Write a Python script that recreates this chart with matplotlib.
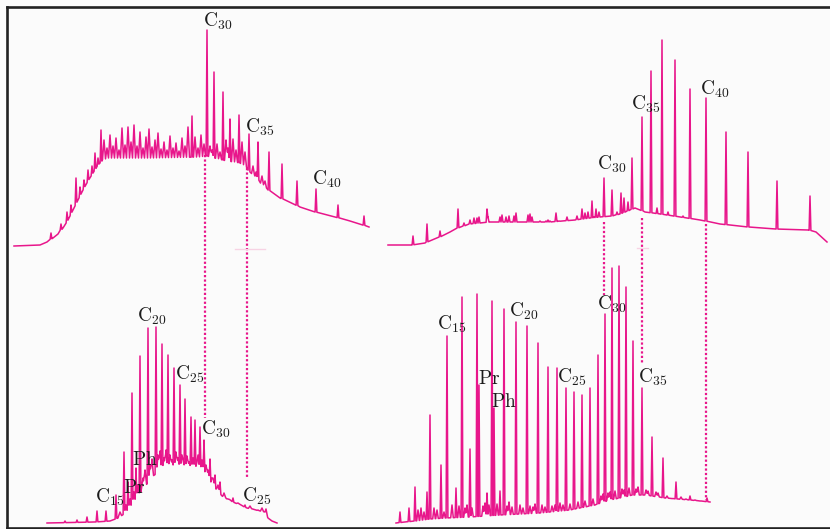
import numpy as np
import matplotlib.pyplot as plt

plt.rcParams['mathtext.fontset'] = 'cm'

PINK = '#e8168b'
INK = '#1c1c1c'

# positions are read in picture pixels (x to the right, y downwards)

# top left trace: lower envelope of the hump, big peaks, small noise peaks
tl_base_x = [14, 40, 47, 53, 58, 63, 68, 73, 78, 83, 88, 93, 98, 103, 110, 150, 200, 207, 222, 240, 246, 255, 265, 280, 300, 315, 335, 350, 369]
tl_base_y = [246, 245, 242, 238, 234, 228, 220, 210, 200, 190, 181, 173, 165, 160, 158, 158, 157, 156, 160, 163, 168, 177, 188, 198, 207, 212, 217, 221, 227]
tl_peak_x = [51, 61, 67, 71, 76, 80, 84, 88, 92, 95, 98, 101, 192, 207, 214, 223, 230, 239, 249, 258, 269, 282, 297, 316, 338, 364]
tl_peak_y = [233, 224, 212, 205, 178, 187, 180, 170, 166, 153, 158, 130, 116, 30, 72, 92, 119, 115, 134, 142, 152, 164, 181, 189, 205, 216]
tl_noise_x = [104, 107, 110, 113, 116, 119, 122, 125, 128, 131, 134, 137, 140, 143, 146, 149, 152, 155, 158, 161, 164, 167, 170, 173, 176, 179, 182, 185, 188, 195, 198, 201, 204, 210, 212, 217, 220, 226, 228, 233, 236, 242, 245, 253, 256, 262, 265]
tl_noise_y = [140, 148, 135, 146, 138, 150, 128, 145, 127, 142, 125, 146, 132, 148, 137, 129, 147, 140, 133, 149, 142, 150, 136, 148, 143, 151, 138, 146, 127, 137, 148, 135, 144, 146, 150, 144, 152, 140, 148, 139, 150, 142, 152, 166, 172, 176, 181]

# top right trace
tr_base_x = [388, 412, 425, 432, 440, 450, 458, 470, 490, 520, 550, 575, 590, 600, 612, 620, 628, 635, 645, 660, 680, 700, 720, 748, 775, 808, 816, 827]
tr_base_y = [245, 245, 243, 240, 237, 232, 228, 224, 222, 222, 222, 220, 218, 217, 216, 214, 211, 208, 212, 214, 217, 220, 224, 227, 229, 230, 232, 242]
tr_peak_x = [413, 427, 440, 458, 487, 592, 596, 604, 612, 617, 621, 624, 628, 632, 642, 651, 657, 662, 668, 675, 683, 690, 706, 726, 748, 777, 810]
tr_peak_y = [236, 224, 231, 209, 209, 201, 209, 178, 190, 212, 193, 198, 202, 158, 117, 71, 208, 40, 212, 60, 216, 89, 98, 132, 152, 181, 196]
tr_noise_x = [464, 470, 474, 477, 479, 488, 500, 502, 506, 509, 514, 516, 528, 530, 532, 540, 543, 546, 548, 550, 556, 559, 567, 577, 582, 585, 588, 594, 599]
tr_noise_y = [223, 220, 218, 218, 217, 217, 217, 215, 217, 216, 216, 213, 215, 214, 217, 221, 222, 221, 220, 221, 213, 221, 217, 216, 209, 213, 212, 217, 212]

# bottom left trace
bl_base_x = [47, 95, 110, 118, 127, 133, 143, 153, 163, 173, 193, 203, 208, 215, 223, 233, 247, 260, 265, 268, 272, 277]
bl_base_y = [523, 522, 521, 518, 512, 504, 489, 476, 469, 467, 467, 470, 478, 488, 497, 502, 508, 511, 512, 518, 521, 523]
bl_peak_x = [65, 77, 87, 97, 106, 116, 124, 128, 132, 136, 140, 148, 156, 162, 168, 174, 180, 185, 191, 195, 200, 204, 210, 215, 220, 233, 245, 258]
bl_peak_y = [521, 520, 517, 511, 511, 495, 452, 482, 393, 468, 356, 328, 327, 344, 355, 368, 385, 399, 417, 420, 427, 440, 459, 475, 482, 498, 505, 510]
bl_noise_x = [120, 126, 130, 134, 138, 143, 145, 150, 152, 158, 160, 164, 166, 170, 172, 176, 178, 182, 183, 187, 189, 193, 197, 198, 202, 206, 208, 212, 213, 217, 218, 224, 228, 238, 250, 262, 266]
bl_noise_y = [512, 505, 499, 492, 485, 478, 470, 465, 459, 455, 451, 458, 450, 455, 460, 452, 458, 455, 460, 456, 462, 458, 462, 455, 460, 465, 470, 478, 478, 488, 485, 493, 499, 503, 506, 508, 509]

# bottom right trace
br_base_x = [396, 405, 415, 430, 445, 470, 500, 540, 570, 595, 610, 625, 632, 645, 665, 690, 710]
br_base_y = [523, 522, 521, 519, 518, 517, 515, 513, 510, 505, 500, 497, 495, 495, 498, 500, 502]
br_peak_x = [400, 409, 415, 427, 430, 441, 447, 456, 462, 470, 477, 479, 487, 492, 494, 500, 504, 516, 527, 538, 548, 557, 566, 574, 582, 590, 598, 605, 612, 619, 626, 633, 642, 652, 663, 676, 690, 707]
br_peak_y = [512, 508, 487, 492, 415, 465, 336, 488, 297, 449, 294, 385, 493, 301, 408, 491, 309, 322, 326, 343, 367, 368, 388, 392, 395, 388, 355, 314, 268, 266, 287, 341, 388, 437, 458, 482, 496, 498]
br_noise_x = [418, 421, 424, 434, 437, 444, 452, 459, 465, 467, 472, 483, 485, 489, 497, 507, 509, 512, 520, 523, 530, 533, 535, 542, 545, 552, 555, 560, 563, 570, 578, 585, 593, 601, 603, 608, 610, 615, 622, 624, 629, 636, 638, 646, 648, 656, 658, 667, 672, 681, 686, 695, 700]
br_noise_y = [510, 508, 512, 508, 510, 512, 505, 506, 508, 505, 508, 506, 503, 505, 504, 506, 502, 507, 505, 508, 506, 507, 504, 505, 507, 506, 505, 503, 505, 504, 502, 501, 499, 496, 494, 493, 492, 491, 489, 490, 488, 489, 487, 490, 491, 492, 493, 496, 499, 497, 499, 500, 501]

# dotted guide lines linking the panels
dot_x = [205, 247, 604, 642, 706]
dot_top = [155, 168, 222, 218, 224]
dot_bottom = [418, 478, 295, 363, 500]

# peak labels
lab_x = [203, 245, 312, 597, 631, 700, 137, 175, 201, 132, 123, 95, 242, 437, 478, 491, 509, 557, 597, 638]
lab_y = [27, 133, 185, 170, 110, 95, 322, 380, 435, 465, 493, 503, 502, 330, 384, 407, 317, 383, 310, 383]
lab_text = ['C_{30}', 'C_{35}', 'C_{40}', 'C_{30}', 'C_{35}', 'C_{40}',
            'C_{20}', 'C_{25}', 'C_{30}', 'Ph', 'Pr', 'C_{15}', 'C_{25}',
            'C_{15}', 'Pr', 'Ph', 'C_{20}', 'C_{25}', 'C_{30}', 'C_{35}']


def chromatogram(base_x, base_y, peak_x, peak_y, noise_x, noise_y, w_peak, w_noise):
    cx = np.concatenate([peak_x, noise_x]).astype(float)
    cy = np.concatenate([peak_y, noise_y]).astype(float)
    hw = np.concatenate([np.full(len(peak_x), w_peak), np.full(len(noise_x), w_noise)])
    xs = np.unique(np.concatenate([base_x, cx - hw, cx, cx + hw]))
    ys = np.interp(xs, base_x, base_y)
    for x0, top, w in zip(cx, cy, hw):
        foot = np.interp(x0, base_x, base_y)
        near = np.abs(xs - x0) <= w
        tri = top + (foot - top) * np.abs(xs[near] - x0) / w
        ys[near] = np.minimum(ys[near], tri)
    return xs, ys


fig = plt.figure(figsize=(8.3, 5.29), dpi=100, facecolor='#fbfbfb')
# the frame is open on the right: push the axes past the canvas edge
ax = fig.add_axes([6.8 / 830, 1.5 / 529, (845 - 6.8) / 830, (527.5 - 7) / 529])
ax.set_facecolor('#fbfbfb')
ax.set_xlim(6.8, 845)
ax.set_ylim(527.5, 7)
ax.set_xticks([])
ax.set_yticks([])
for side in ['left', 'top', 'bottom']:
    ax.spines[side].set_linewidth(1.9)
    ax.spines[side].set_color('#222222')
ax.spines['right'].set_visible(False)

traces = [
    (tl_base_x, tl_base_y, tl_peak_x, tl_peak_y, tl_noise_x, tl_noise_y, 0.9, 1.5),
    (tr_base_x, tr_base_y, tr_peak_x, tr_peak_y, tr_noise_x, tr_noise_y, 0.9, 1.0),
    (bl_base_x, bl_base_y, bl_peak_x, bl_peak_y, bl_noise_x, bl_noise_y, 0.9, 1.6),
    (br_base_x, br_base_y, br_peak_x, br_peak_y, br_noise_x, br_noise_y, 0.9, 1.3),
]
for t in traces:
    xs, ys = chromatogram(*t)
    ax.plot(xs, ys, color=PINK, lw=1.1, solid_joinstyle='round')

ax.vlines(dot_x, dot_top, dot_bottom, colors=PINK, linestyles=(0, (1, 1)), lw=1.6)

# faint marks left in the scan
ax.plot([235, 265], [249, 249], color='#f7d3e4', lw=1.0)
ax.plot([637, 648], [248, 248], color='#f7d3e4', lw=1.0)

for x, y, s in zip(lab_x, lab_y, lab_text):
    ax.text(x, y, r'$\mathrm{' + s + '}$', fontsize=14, color=INK, ha='left', va='baseline')

fig.savefig('out.png', dpi=100, facecolor=fig.get_facecolor())
